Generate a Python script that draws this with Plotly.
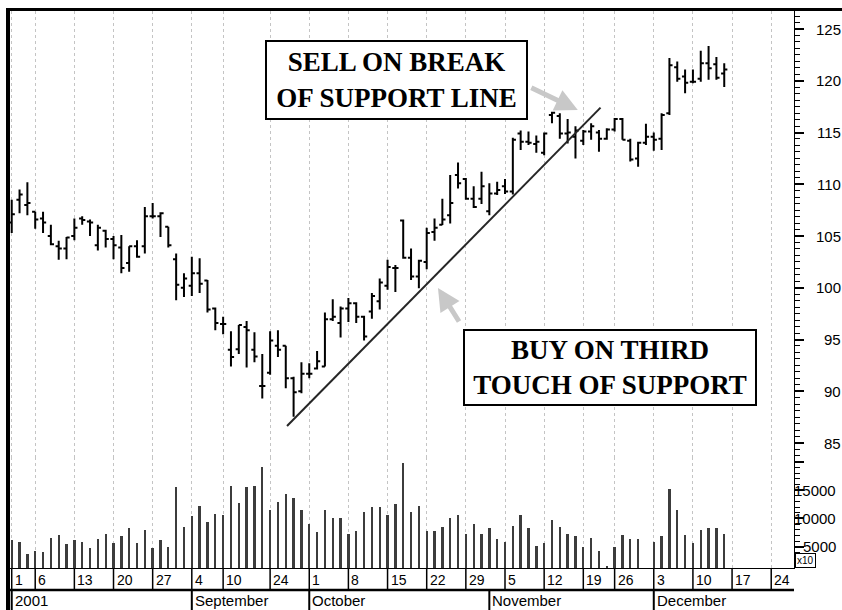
import pandas as pd
import plotly.graph_objects as go

# NYSE sessions Aug-Dec 2001 (Labor Day, the Sept 11-14 closure, Thanksgiving and Christmas removed)
closed_days = ["2001-09-03", "2001-09-11", "2001-09-12", "2001-09-13", "2001-09-14",
               "2001-11-22", "2001-12-25"]
sessions = [d for d in pd.bdate_range("2001-08-01", "2001-12-31")
            if d.strftime("%Y-%m-%d") not in closed_days]

open_ = [106.3, 108.5, 108.0, 107.35, 106.7, 105.0, 104.0, 103.8, 105.0, 106.7,
         106.4, 104.1, 105.5, 104.7, 103.9, 102.4, 104.0, 104.0, 106.9, 106.9,
         105.9, 102.75, 100.0, 100.2, 101.4, 100.7, 98.0, 96.5, 94.0, 94.05,
         96.2, 94.0, 90.5, 91.8, 94.4, 94.4, 91.25, 90.0, 91.7, 92.2,
         92.4, 96.95, 96.6, 98.0, 98.5, 97.2, 97.7, 98.7, 100.2, 101.9,
         106.5, 102.9, 101.1, 102.5, 105.4, 106.1, 107.0, 110.9, 110.5, 108.6,
         108.6, 107.4, 109.1, 109.8, 109.3, 114.9, 114.1, 113.9, 113.05, 116.7,
         116.6, 114.9, 114.6, 114.2, 115.1, 115.0, 114.4, 115.3, 116.3, 114.2,
         112.5, 114.0, 114.6, 114.4, 116.85, 121.3, 120.4, 119.9, 120.2, 121.7,
         121.6, 120.7]
high = [108.5, 109.5, 110.2, 107.35, 107.35, 106.1, 104.55, 104.9, 106.7, 106.9,
        106.6, 106.1, 105.6, 105.0, 105.1, 104.0, 104.6, 107.8, 108.2, 107.3,
        105.9, 103.3, 101.4, 103.0, 102.85, 100.75, 98.1, 97.2, 95.8, 96.4,
        96.8, 95.7, 93.6, 95.8, 95.9, 94.4, 91.4, 92.8, 92.7, 93.9,
        97.6, 98.9, 98.2, 99.0, 98.6, 97.3, 99.5, 100.9, 102.7, 102.2,
        106.6, 103.8, 102.7, 105.8, 106.7, 108.6, 110.9, 112.1, 110.6, 109.8,
        111.2, 110.1, 110.25, 110.5, 114.5, 115.2, 115.1, 114.7, 115.0, 117.0,
        116.85, 116.3, 115.6, 115.25, 115.9, 115.25, 115.4, 116.4, 116.4, 114.4,
        114.1, 115.85, 115.0, 116.85, 122.2, 121.85, 121.1, 121.1, 122.9, 123.35,
        122.3, 121.7]
low = [105.3, 107.2, 107.0, 105.7, 105.3, 104.1, 102.7, 102.75, 104.6, 106.1,
       105.0, 103.6, 103.9, 102.75, 101.4, 101.55, 102.9, 103.3, 106.7, 104.9,
       103.9, 98.8, 99.1, 99.2, 99.5, 97.6, 95.9, 95.5, 92.4, 93.6,
       92.3, 92.8, 89.3, 91.6, 93.3, 90.3, 87.55, 89.8, 91.25, 92.1,
       92.4, 96.8, 95.2, 96.7, 96.6, 94.9, 97.0, 97.9, 99.8, 99.6,
       102.8, 100.75, 99.95, 101.8, 104.55, 106.06, 106.2, 109.6, 108.5, 107.7,
       108.1, 107.0, 108.96, 109.06, 109.0, 113.3, 113.8, 113.05, 112.8, 115.9,
       114.4, 113.95, 112.5, 113.8, 114.3, 113.15, 114.3, 115.1, 114.3, 112.2,
       111.7, 113.8, 113.25, 113.3, 116.7, 119.9, 118.8, 119.75, 119.9, 120.1,
       120.1, 119.4]
close = [107.1, 109.0, 108.2, 106.6, 106.3, 104.2, 103.8, 104.85, 105.8, 106.55,
         106.3, 105.8, 104.7, 104.1, 101.9, 104.0, 103.0, 106.9, 106.9, 107.2,
         104.1, 100.3, 100.9, 101.4, 100.4, 97.9, 96.6, 96.5, 93.3, 96.4,
         95.9, 93.35, 90.5, 94.9, 94.0, 91.25, 89.9, 91.7, 91.7, 92.9,
         96.95, 97.2, 98.0, 98.5, 97.2, 95.3, 99.2, 100.5, 102.0, 101.9,
         102.9, 101.1, 102.6, 105.3, 105.8, 106.6, 108.2, 110.1, 108.6, 107.8,
         109.8, 109.1, 109.45, 109.3, 114.3, 114.1, 114.0, 114.1, 114.9, 116.9,
         114.9, 115.0, 115.2, 115.1, 115.6, 114.4, 115.3, 116.3, 114.3, 112.4,
         114.0, 114.6, 114.3, 116.7, 121.5, 120.2, 119.8, 119.9, 121.7, 121.2,
         120.3, 121.1]
# volume in units of 10 shares
volume = [6180, 5780, 3660, 4240, 4010, 6480, 7010, 5420, 6180, 5780,
          4720, 6300, 7190, 5600, 6840, 8250, 5600, 7900, 4720, 6180,
          4890, 15500, 8430, 10370, 12140, 9370, 10720, 10550, 15670, 12670,
          15500, 15670, 19030, 11430, 12850, 14260, 13550, 11430, 8960, 7550,
          11430, 10020, 10020, 7190, 7720, 11080, 11960, 11960, 10550, 12490,
          19740, 11080, 12140, 7720, 7720, 8430, 10020, 10550, 7190, 8960,
          7190, 8250, 6300, 5780, 8600, 10550, 8250, 5070, 5600, 9670,
          8430, 7190, 6840, 4890, 6480, 4190, 1540, 4890, 7010, 6300,
          6300, 1100, 5780, 6840, 15140, 11430, 7010, 5600, 7900, 8250,
          8250, 7190]

# support line drawn by hand on the chart (session index, price)
trend_x = [35.16, 75.2]
trend_y = [86.64, 117.4]

price_ticks = [85, 90, 95, 100, 105, 110, 115, 120, 125]
volume_ticks = [5000, 10000, 15000]

callout_sell = "<b>SELL ON BREAK<br>OF SUPPORT LINE</b>"
callout_buy = "<b>BUY ON THIRD<br>TOUCH OF SUPPORT</b>"

n = len(close)
idx = list(range(n))
x_range = [-0.22, 99.91]

# first session of each week (skip crowded ones) and of each month
week_ticks = []
prev_week = None
for i, d in enumerate(sessions):
    wk = d.isocalendar()[1]
    if wk != prev_week:
        prev_week = wk
        if i <= x_range[1] and (not week_ticks or i - week_ticks[-1] > 2):
            week_ticks.append(i)
month_ticks = []
prev_month = None
for i, d in enumerate(sessions):
    if d.month != prev_month:
        prev_month = d.month
        if i <= x_range[1]:
            month_ticks.append(i)

# figure geometry (pixels)
W, H = 842, 610
ML, MR, MT, MB = 10, 48, 11, 42
PW, PH = W - ML - MR, H - MT - MB
split = (568 - 457) / PH          # volume pane below, price pane above


def px_x(px):
    return (px - ML) / PW


def px_y(py):
    return (H - MB - py) / PH


fig = go.Figure()

fig.add_trace(go.Bar(
    x=idx, y=volume, width=0.3, yaxis="y2",
    marker=dict(color="#3c3c3c", line=dict(width=0)),
    hoverinfo="skip",
))
fig.add_trace(go.Ohlc(
    x=idx, open=open_, high=high, low=low, close=close,
    increasing=dict(line=dict(color="black", width=2)),
    decreasing=dict(line=dict(color="black", width=2)),
    tickwidth=0.4, yaxis="y",
))
fig.add_trace(go.Scatter(
    x=trend_x, y=trend_y, mode="lines", yaxis="y",
    line=dict(color="#262626", width=2), hoverinfo="skip",
))

axis_font = dict(family="Liberation Sans, Arial, sans-serif", size=15, color="black")

fig.update_layout(
    width=W, height=H, margin=dict(l=ML, r=MR, t=MT, b=MB),
    paper_bgcolor="white", plot_bgcolor="white",
    showlegend=False, hovermode=False, bargap=0,
    xaxis=dict(
        range=x_range, anchor="y2", rangeslider=dict(visible=False),
        tickmode="array", tickvals=week_ticks, showticklabels=False, ticks="",
        showgrid=True, gridcolor="#c4c4c4", griddash="dot", gridwidth=1,
        showline=True, linecolor="black", linewidth=1.3, zeroline=False,
    ),
    yaxis=dict(
        domain=[split, 1], range=[83.65, 126.74], side="right", anchor="x",
        showgrid=False, zeroline=False, showline=True, linecolor="black", linewidth=1,
        tickmode="array", tickvals=price_ticks, ticks="outside", ticklen=9,
        tickwidth=1.5, tickcolor="black", showticklabels=False,
        minor=dict(dtick=0.625, tick0=85, ticks="outside", ticklen=5,
                   tickwidth=1.3, tickcolor="black"),
    ),
    yaxis2=dict(
        domain=[0, split], range=[1236, 20850], side="right", anchor="x",
        showgrid=False, zeroline=False, showline=True, linecolor="black", linewidth=1,
        tickmode="array", tickvals=volume_ticks + [20000], ticks="outside", ticklen=9,
        tickwidth=1.5, tickcolor="black", showticklabels=False,
        minor=dict(dtick=1000, tick0=0, ticks="outside", ticklen=5,
                   tickwidth=1.3, tickcolor="black"),
    ),
)

shapes = []
# heavy frame on the left and top
shapes.append(dict(type="line", xref="paper", yref="paper",
                   x0=px_x(8), x1=px_x(8), y0=px_y(610), y1=px_y(8),
                   line=dict(color="black", width=4)))
shapes.append(dict(type="line", xref="paper", yref="paper",
                   x0=px_x(6), x1=px_x(842), y0=px_y(9.5), y1=px_y(9.5),
                   line=dict(color="black", width=3)))
# date strip: bottom rule, week and month separators
shapes.append(dict(type="line", xref="paper", yref="paper",
                   x0=px_x(6), x1=1, y0=px_y(590), y1=px_y(590),
                   line=dict(color="black", width=2.5)))
for i in week_ticks:
    shapes.append(dict(type="line", xref="x", yref="paper", x0=i, x1=i,
                       y0=0, y1=px_y(590), line=dict(color="black", width=1.5)))
for i in month_ticks:
    shapes.append(dict(type="line", xref="x", yref="paper", x0=i, x1=i,
                       y0=px_y(590), y1=px_y(610), line=dict(color="black", width=2)))
fig.update_layout(shapes=shapes)

ann = []
for i in week_ticks:
    ann.append(dict(x=i, xref="x", y=px_y(579.5), yref="paper", text=str(sessions[i].day),
                    xanchor="left", yanchor="middle", xshift=1, showarrow=False,
                    font=dict(axis_font, size=14)))
for k, i in enumerate(month_ticks):
    label = str(sessions[i].year) if k == 0 else sessions[i].strftime("%B")
    ann.append(dict(x=i, xref="x", y=px_y(600.5), yref="paper", text=label,
                    xanchor="left", yanchor="middle", xshift=1, showarrow=False,
                    font=dict(axis_font, size=15)))
for p in price_ticks:
    ann.append(dict(x=px_x(843), xref="paper", y=p, yref="y", text=str(p),
                    xanchor="right", yanchor="middle", showarrow=False, font=axis_font))
for v in volume_ticks:
    ann.append(dict(x=px_x(838), xref="paper", y=v, yref="y2", text=str(v),
                    xanchor="right", yanchor="middle", showarrow=False, font=axis_font))
ann.append(dict(x=px_x(795), xref="paper", y=0, yref="paper", text="x10",
                xanchor="left", yanchor="bottom", showarrow=False,
                bordercolor="black", borderwidth=1, borderpad=1, bgcolor="white",
                font=dict(axis_font, size=10)))

callout_font = dict(family="Liberation Serif, Times New Roman, serif", size=27, color="black")
ann.append(dict(x=px_x(396.5), xref="paper", y=px_y(80), yref="paper",
                text=callout_sell, showarrow=False, xanchor="center", yanchor="middle",
                width=259, height=76, align="center", valign="middle",
                bordercolor="black", borderwidth=2, borderpad=0, bgcolor="white",
                font=callout_font))
ann.append(dict(x=px_x(610), xref="paper", y=px_y(367.5), yref="paper",
                text=callout_buy, showarrow=False, xanchor="center", yanchor="middle",
                width=290, height=73, align="center", valign="middle",
                bordercolor="black", borderwidth=2, borderpad=0, bgcolor="white",
                font=callout_font))
# grey pointer arrows
ann.append(dict(x=72.3, xref="x", y=117.17, yref="y", ax=-48, ay=-23, text="",
                showarrow=True, arrowhead=2, arrowsize=0.9, arrowwidth=5,
                arrowcolor="#c8c8c8"))
ann.append(dict(x=54.44, xref="x", y=99.98, yref="y", ax=22, ay=35, text="",
                showarrow=True, arrowhead=2, arrowsize=0.9, arrowwidth=5,
                arrowcolor="#c8c8c8"))
fig.update_layout(annotations=ann)

fig.write_html("out.html")
